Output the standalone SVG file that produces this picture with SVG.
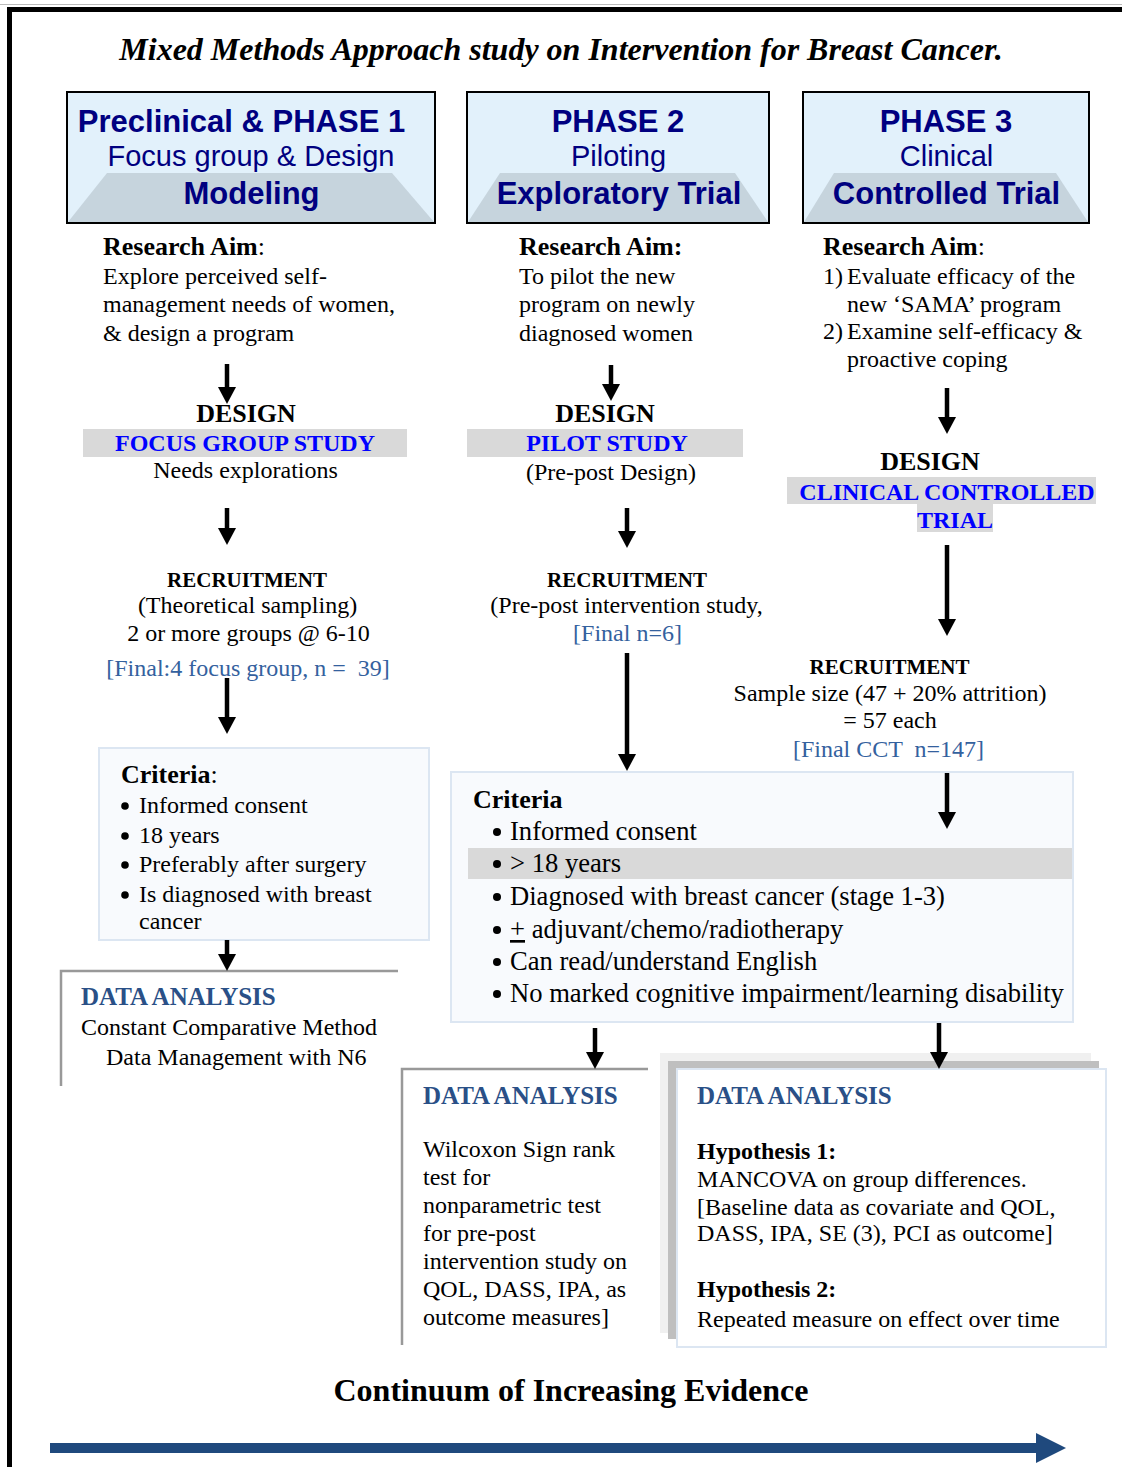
<svg xmlns="http://www.w3.org/2000/svg" width="1122" height="1467" viewBox="0 0 1122 1467">
  <defs>
    <style>
      .serif { font-family: "Liberation Serif", "Times New Roman", serif; fill: #000; }
      .sans { font-family: "Liberation Sans", Arial, sans-serif; fill: #000080; }
      .ttl { font-size: 32px; font-weight: bold; font-style: italic; }
      .hb { font-size: 31px; font-weight: bold; }
      .hr { font-size: 29px; }
      .aimh { font-size: 26px; font-weight: bold; }
      .body { font-size: 24px; }
      .lg { font-size: 26px; }
      .lgi { font-size: 26.6px; }
      .dsg { font-size: 26px; font-weight: bold; }
      .study { font-size: 24px; font-weight: bold; fill: #0000FF; }
      .rec { font-size: 21px; font-weight: bold; }
      .final { fill: #34619E; }
      .da { font-size: 25px; font-weight: bold; fill: #2A5087; }
      .b { font-weight: bold; }
      .mid { text-anchor: middle; }
      .phase { fill: #E2F1FB; stroke: #000; stroke-width: 2; }
      .trap { fill: #C6D4DD; }
      .band { fill: #D9D9D9; }
      .crit { fill: #F8FAFD; stroke: #DCE6F2; stroke-width: 2; }
      .edge { fill: none; stroke: #999; stroke-width: 2.5; }
      .conn line { stroke: #000; stroke-width: 4.5; marker-end: url(#ah); }
    </style>
    <marker id="ah" viewBox="0 0 17 18" markerWidth="17" markerHeight="18" refX="0" refY="9" orient="auto" markerUnits="userSpaceOnUse">
      <path d="M0,0 L17,9 L0,18 z" fill="#000"/>
    </marker>
  </defs>

  <rect x="0" y="0" width="1122" height="1467" fill="#fff"/>

  <!-- page frame -->
  <line x1="0" y1="4.5" x2="1122" y2="4.5" stroke="#BBB" stroke-width="1"/>
  <path d="M9.5,1467 V9.5 H1122" fill="none" stroke="#000" stroke-width="5"/>

  <text class="serif ttl mid" x="561" y="60">Mixed Methods Approach study on Intervention for Breast Cancer.</text>

  <!-- phase headers -->
  <g id="phase1">
    <rect class="phase" x="67" y="92" width="368" height="131"/>
    <polygon class="trap" points="107,173 392,173 434,222 68,222"/>
    <text class="sans hb mid" x="241.5" y="132">Preclinical &amp; PHASE 1</text>
    <text class="sans hr mid" x="251" y="166">Focus group &amp; Design</text>
    <text class="sans hb mid" x="251.5" y="204">Modeling</text>
  </g>
  <g id="phase2">
    <rect class="phase" x="467" y="92" width="302" height="131"/>
    <polygon class="trap" points="500,173 735,173 768,222 468,222"/>
    <text class="sans hb mid" x="618" y="132">PHASE 2</text>
    <text class="sans hr mid" x="618.5" y="166">Piloting</text>
    <text class="sans hb mid" x="619" y="204">Exploratory Trial</text>
  </g>
  <g id="phase3">
    <rect class="phase" x="803" y="92" width="286" height="131"/>
    <polygon class="trap" points="834,173 1056,173 1088,222 804,222"/>
    <text class="sans hb mid" x="946" y="132">PHASE 3</text>
    <text class="sans hr mid" x="946.5" y="166">Clinical</text>
    <text class="sans hb mid" x="946.5" y="204">Controlled Trial</text>
  </g>

  <!-- research aims -->
  <g id="aim1">
    <text class="serif aimh" x="103" y="255">Research Aim<tspan font-weight="normal">:</tspan></text>
    <text class="serif body" x="103" y="284">Explore perceived self-</text>
    <text class="serif body" x="103" y="312">management needs of women,</text>
    <text class="serif body" x="103" y="341">&amp; design a program</text>
  </g>
  <g id="aim2">
    <text class="serif aimh" x="519" y="255">Research Aim:</text>
    <text class="serif body" x="519" y="284">To pilot the new</text>
    <text class="serif body" x="519" y="312">program on newly</text>
    <text class="serif body" x="519" y="341">diagnosed women</text>
  </g>
  <g id="aim3">
    <text class="serif aimh" x="823" y="255">Research Aim<tspan font-weight="normal">:</tspan></text>
    <text class="serif body" x="823" y="284">1)</text>
    <text class="serif body" x="847" y="284">Evaluate efficacy of the</text>
    <text class="serif body" x="847" y="312">new ‘SAMA’ program</text>
    <text class="serif body" x="823" y="339">2)</text>
    <text class="serif body" x="847" y="339">Examine self-efficacy &amp;</text>
    <text class="serif body" x="847" y="367">proactive coping</text>
  </g>

  <!-- designs -->
  <g id="design1">
    <rect class="band" x="83" y="429" width="324" height="28"/>
    <text class="serif dsg mid" x="246" y="422">DESIGN</text>
    <text class="serif study mid" x="245" y="451">FOCUS GROUP STUDY</text>
    <text class="serif body mid" x="245.5" y="478">Needs explorations</text>
  </g>
  <g id="design2">
    <rect class="band" x="467" y="429" width="276" height="28"/>
    <text class="serif dsg mid" x="605" y="422">DESIGN</text>
    <text class="serif study mid" x="607" y="451">PILOT STUDY</text>
    <text class="serif body mid" x="611" y="480">(Pre-post Design)</text>
  </g>
  <g id="design3">
    <rect class="band" x="787" y="477" width="309" height="27"/>
    <rect class="band" x="917" y="504" width="76" height="28"/>
    <text class="serif dsg mid" x="930" y="470">DESIGN</text>
    <text class="serif study mid" x="947" y="500">CLINICAL CONTROLLED</text>
    <text class="serif study mid" x="955" y="528">TRIAL</text>
  </g>

  <!-- recruitment -->
  <g id="recruit1">
    <text class="serif rec mid" x="247" y="587">RECRUITMENT</text>
    <text class="serif body mid" x="247.5" y="613">(Theoretical sampling)</text>
    <text class="serif body mid" x="248.5" y="641">2 or more groups @ 6-10</text>
    <text class="serif body final mid" x="248" y="676" xml:space="preserve">[Final:4 focus group, n =  39]</text>
  </g>
  <g id="recruit2">
    <text class="serif rec mid" x="627" y="587">RECRUITMENT</text>
    <text class="serif body mid" x="626.5" y="613">(Pre-post intervention study,</text>
    <text class="serif body final mid" x="627.5" y="641">[Final n=6]</text>
  </g>
  <g id="recruit3">
    <text class="serif rec mid" x="889.5" y="674">RECRUITMENT</text>
    <text class="serif body mid" x="890" y="701">Sample size (47 + 20% attrition)</text>
    <text class="serif body mid" x="890" y="728">= 57 each</text>
    <text class="serif body final mid" x="888.5" y="757" xml:space="preserve">[Final CCT  n=147]</text>
  </g>

  <!-- inclusion criteria -->
  <g id="criteria1">
    <rect class="crit" x="99" y="748" width="330" height="192"/>
    <text class="serif lg" x="121" y="783"><tspan font-weight="bold">Criteria</tspan>:</text>
    <circle cx="125" cy="806" r="3.8"/>
    <text class="serif body" x="139" y="813">Informed consent</text>
    <circle cx="125" cy="836" r="3.8"/>
    <text class="serif body" x="139" y="843">18 years</text>
    <circle cx="125" cy="865" r="3.8"/>
    <text class="serif body" x="139" y="872">Preferably after surgery</text>
    <circle cx="125" cy="895" r="3.8"/>
    <text class="serif body" x="139" y="902">Is diagnosed with breast</text>
    <text class="serif body" x="139" y="929">cancer</text>
  </g>
  <g id="criteria2">
    <rect class="crit" x="451" y="772" width="622" height="250"/>
    <rect class="band" x="468" y="848" width="604" height="31"/>
    <text class="serif lg b" x="473" y="808">Criteria</text>
    <circle cx="497" cy="832" r="4"/>
    <text class="serif lgi" x="510" y="840">Informed consent</text>
    <circle cx="497" cy="864" r="4"/>
    <text class="serif lgi" x="510" y="872">&gt; 18 years</text>
    <circle cx="497" cy="897" r="4"/>
    <text class="serif lgi" x="510" y="905">Diagnosed with breast cancer (stage 1-3)</text>
    <circle cx="497" cy="930" r="4"/>
    <text class="serif lgi" x="510" y="938"><tspan text-decoration="underline">+</tspan> adjuvant/chemo/radiotherapy</text>
    <circle cx="497" cy="962" r="4"/>
    <text class="serif lgi" x="510" y="970">Can read/understand English</text>
    <circle cx="497" cy="994" r="4"/>
    <text class="serif lgi" x="510" y="1002">No marked cognitive impairment/learning disability</text>
  </g>

  <!-- data analysis -->
  <g id="analysis1">
    <path class="edge" d="M61,1086 V971 H398"/>
    <text class="serif da" x="81" y="1005">DATA ANALYSIS</text>
    <text class="serif body" x="81" y="1035">Constant Comparative Method</text>
    <text class="serif body" x="106" y="1065">Data Management with N6</text>
  </g>
  <g id="analysis2">
    <path class="edge" d="M402,1345 V1069 H648"/>
    <text class="serif da" x="423" y="1104">DATA ANALYSIS</text>
    <text class="serif body" x="423" y="1157">Wilcoxon Sign rank</text>
    <text class="serif body" x="423" y="1185">test for</text>
    <text class="serif body" x="423" y="1213">nonparametric test</text>
    <text class="serif body" x="423" y="1241">for pre-post</text>
    <text class="serif body" x="423" y="1269">intervention study on</text>
    <text class="serif body" x="423" y="1297">QOL, DASS, IPA, as</text>
    <text class="serif body" x="423" y="1325">outcome measures]</text>
  </g>
  <g id="analysis3">
    <rect x="660" y="1053" width="431" height="280" fill="#F0F0F0"/>
    <rect x="668" y="1061" width="431" height="278" fill="#BFBFBF"/>
    <rect x="677" y="1069" width="429" height="278" fill="#fff" stroke="#DCE6F2" stroke-width="2"/>
    <text class="serif da" x="697" y="1104">DATA ANALYSIS</text>
    <text class="serif body b" x="697" y="1159">Hypothesis 1:</text>
    <text class="serif body" x="697" y="1187">MANCOVA on group differences.</text>
    <text class="serif body" x="697" y="1215">[Baseline data as covariate and QOL,</text>
    <text class="serif body" x="697" y="1241">DASS, IPA, SE (3), PCI as outcome]</text>
    <text class="serif body b" x="697" y="1297">Hypothesis 2:</text>
    <text class="serif body" x="697" y="1327">Repeated measure on effect over time</text>
  </g>

  <!-- flow arrows -->
  <g id="connectors" class="conn">
    <line x1="227" y1="364" x2="227" y2="387"/>
    <line x1="611" y1="365" x2="611" y2="384"/>
    <line x1="947" y1="388" x2="947" y2="417"/>
    <line x1="227" y1="508" x2="227" y2="528"/>
    <line x1="627" y1="508" x2="627" y2="531"/>
    <line x1="947" y1="545" x2="947" y2="619"/>
    <line x1="227" y1="678" x2="227" y2="717"/>
    <line x1="627" y1="653" x2="627" y2="754"/>
    <line x1="947" y1="773" x2="947" y2="812"/>
    <line x1="227" y1="940" x2="227" y2="954"/>
    <line x1="595" y1="1028" x2="595" y2="1052"/>
    <line x1="939" y1="1023" x2="939" y2="1052"/>
  </g>

  <!-- evidence continuum -->
  <g id="continuum">
    <text class="serif mid" x="571" y="1401" font-size="32" font-weight="bold">Continuum of Increasing Evidence</text>
    <rect x="50" y="1443" width="988" height="10" fill="#1F497D"/>
    <polygon points="1036,1433 1066,1448 1036,1463" fill="#1F497D"/>
  </g>
</svg>
